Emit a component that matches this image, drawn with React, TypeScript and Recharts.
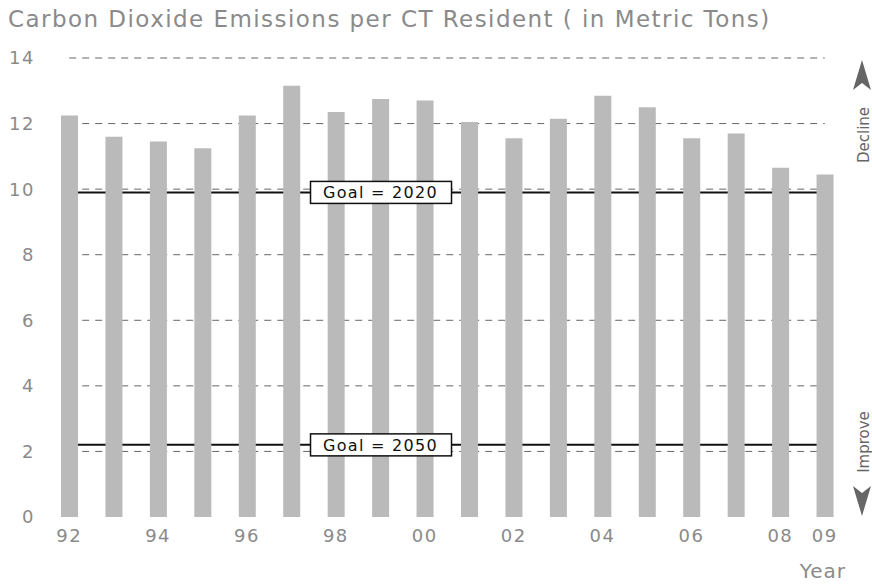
import React from 'react'
import {
  ComposedChart,
  Bar,
  XAxis,
  YAxis,
  ReferenceLine,
} from 'recharts'

const years = ['92', '93', '94', '95', '96', '97', '98', '99', '00', '01', '02', '03', '04', '05', '06', '07', '08', '09']
const emissions = [12.25, 11.6, 11.45, 11.25, 12.25, 13.15, 12.35, 12.75, 12.7, 12.05, 11.55, 12.15, 12.85, 12.5, 11.55, 11.7, 10.65, 10.45]
const yTicks = [0, 2, 4, 6, 8, 10, 12, 14]
const shownYears = ['92', '94', '96', '98', '00', '02', '04', '06', '08', '09']
const goal2020 = 9.9
const goal2050 = 2.2

const data = years.map((y, i) => ({ year: y, value: emissions[i] }))

const FONT = '"DejaVu Sans", Verdana, sans-serif'
const GRAY = '#8a8a8a'
const W = 872
const H = 584
const layer: React.CSSProperties = { position: 'absolute', left: 0, top: 0 }

function GoalLabel(props: any) {
  const { viewBox, text } = props
  if (!viewBox) return null
  const cx = viewBox.x + viewBox.width * 0.412
  const cy = viewBox.y
  return (
    <g>
      <rect x={cx - 70} y={cy - 11} width={141} height={22} fill="#fff" stroke="#111" strokeWidth={1.5} />
      <text x={cx} y={cy + 6} textAnchor="middle" fontSize={16} letterSpacing={1.3} fontFamily={FONT} fill="#111">
        {text}
      </text>
    </g>
  )
}

export default function App() {
  const tickStyle = { fontSize: 18, fill: GRAY, fontFamily: FONT, letterSpacing: 1.5 }
  return (
    <div style={{ position: 'absolute', left: 0, top: 0, width: W, height: H, background: '#fff', fontFamily: FONT }}>
      <div style={{ position: 'absolute', left: 8, top: 6, fontSize: 23, letterSpacing: 1.45, color: GRAY, whiteSpace: 'nowrap' }}>
        Carbon Dioxide Emissions per CT Resident ( in Metric Tons)
      </div>

      {/* axes, grid and goal lines, below the bars */}
      <div style={layer}>
        <ComposedChart width={W} height={H} data={data} margin={{ top: 58, right: 25, bottom: 37, left: 0 }}>
          <XAxis
            dataKey="year"
            axisLine={false}
            tickLine={false}
            tickSize={0}
            tickMargin={12}
            interval={0}
            height={30}
            tickFormatter={(v: string) => (shownYears.includes(v) ? v : '')}
            tick={tickStyle}
          />
          <YAxis
            domain={[0, 14]}
            ticks={yTicks}
            axisLine={false}
            tickLine={false}
            tickSize={0}
            tickMargin={12}
            width={47}
            tick={tickStyle}
          />
          <Bar dataKey="value" fill="transparent" barSize={17} isAnimationActive={false} />
          {yTicks.filter((t) => t > 0).map((t) => (
            <ReferenceLine
              key={t}
              segment={[{ x: '92', y: t }, { x: '09', y: t }]}
              stroke="#666"
              strokeDasharray="7 6"
            />
          ))}
          <ReferenceLine segment={[{ x: '92', y: goal2020 }, { x: '09', y: goal2020 }]} stroke="#111" strokeWidth={2} />
          <ReferenceLine segment={[{ x: '92', y: goal2050 }, { x: '09', y: goal2050 }]} stroke="#111" strokeWidth={2} />
        </ComposedChart>
      </div>

      {/* bars and goal labels on top */}
      <div style={layer}>
        <ComposedChart width={W} height={H} data={data} margin={{ top: 58, right: 25, bottom: 67, left: 47 }}>
          <XAxis dataKey="year" hide />
          <YAxis domain={[0, 14]} ticks={yTicks} hide />
          <Bar dataKey="value" fill="#bababa" barSize={17} isAnimationActive={false} />
          <ReferenceLine
            segment={[{ x: '92', y: goal2020 }, { x: '09', y: goal2020 }]}
            stroke="none"
            label={<GoalLabel text="Goal = 2020" />}
          />
          <ReferenceLine
            segment={[{ x: '92', y: goal2050 }, { x: '09', y: goal2050 }]}
            stroke="none"
            label={<GoalLabel text="Goal = 2050" />}
          />
        </ComposedChart>
      </div>

      <svg width={W} height={H} style={{ ...layer, pointerEvents: 'none' }}>
        <text x={846} y={578} textAnchor="end" fontSize={20} letterSpacing={1} fontFamily={FONT} fill={GRAY}>
          Year
        </text>
        <polygon points="862,60 853,90 862,83 871,90" fill="#666" />
        <text transform="translate(869,135) rotate(-90)" textAnchor="middle" fontSize={15} fontFamily={FONT} fill="#666">
          Decline
        </text>
        <text transform="translate(869,442) rotate(-90)" textAnchor="middle" fontSize={15} fontFamily={FONT} fill="#666">
          Improve
        </text>
        <polygon points="862,516 853,486 862,493 871,486" fill="#666" />
      </svg>
    </div>
  )
}
